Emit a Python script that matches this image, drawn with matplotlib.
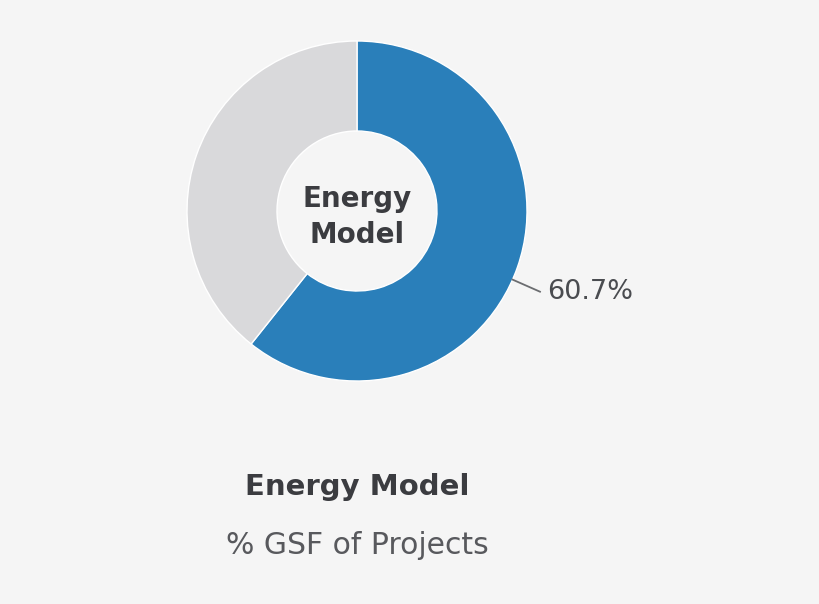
import numpy as np
import matplotlib.pyplot as plt

# Data
labels = ['Energy Model', 'Other']
shares = [60.7, 39.3]
colors = ['#2a7fba', '#d9d9db']

bg = '#f5f5f5'
dark = '#3b3c40'
font = 'DejaVu Sans'

fig = plt.figure(figsize=(8.2, 6.04), dpi=100, facecolor=bg)
ax = fig.add_axes([0, 0, 1, 1])
ax.set_facecolor(bg)

# donut, pixel coordinates (y up)
cx, cy, r = 357, 604 - 211, 170
wedges, _ = ax.pie(shares, colors=colors, startangle=90, counterclock=False,
                   center=(cx, cy), radius=r,
                   wedgeprops=dict(width=r - 80, edgecolor='white', linewidth=1))
ax.set_xlim(0, 820)
ax.set_ylim(0, 604)
ax.set_aspect('equal')
ax.axis('off')

# leader + label for the blue slice
ang = np.deg2rad(-23.8)
x0, y0 = cx + r * np.cos(ang), cy + r * np.sin(ang)
x1, y1 = cx + (r + 30) * np.cos(ang), cy + (r + 30) * np.sin(ang)
ax.plot([x0, x1], [y0, y1], color='#6b6d70', lw=1.3)
ax.text(x1 + 7, y1, '{:.1f}%'.format(shares[0]), fontsize=19.5, color='#4a4c50',
        family=font, va='center', ha='left')

# centre text
ax.text(cx, cy - 6, 'Energy\nModel', fontsize=20, fontweight='bold', color=dark,
        family=font, ha='center', va='center', linespacing=1.35)

# titles
ax.text(cx, 604 - 487, 'Energy Model', fontsize=21, fontweight='bold',
        color=dark, family=font, ha='center', va='center')
ax.text(cx, 604 - 545, '% GSF of Projects', fontsize=21.5, fontweight='normal',
        color='#58595d', family=font, ha='center', va='center')

fig.savefig('out.png', dpi=100, facecolor=bg)
